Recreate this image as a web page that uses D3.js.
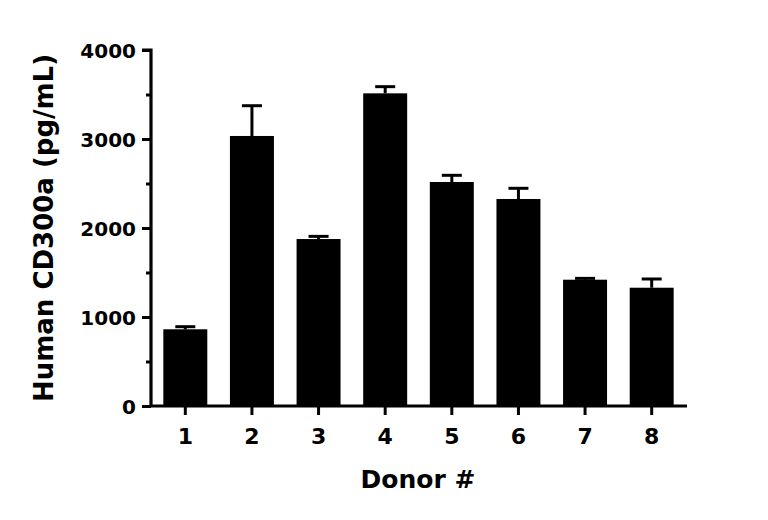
<!DOCTYPE html>
<html><head><meta charset="utf-8">
<script src="https://cdn.jsdelivr.net/npm/d3@7"></script>
<style>body{margin:0;background:#fff}svg{display:block}text{font-family:"DejaVu Sans",sans-serif;font-weight:700;fill:#000}</style>
</head><body>
<svg id="c" width="768" height="520"></svg>
<script>
const donors = ["1","2","3","4","5","6","7","8"];
const means = [862, 3034, 1876, 3513, 2517, 2326, 1419, 1329];
const errors = [29, 340, 30, 75, 75, 120, 15, 98];
const yTicks = [0, 1000, 2000, 3000, 4000];
const yMinorTicks = [500, 1500, 2500, 3500];

const svg = d3.select("#c");
const x = d3.scaleBand().domain(donors).range([150, 687]).paddingInner(0.34).paddingOuter(0.2);
const y = d3.scaleLinear().domain([0, 4000]).range([406, 50]);

// bars
svg.selectAll("rect.bar").data(donors).join("rect")
  .attr("x", d => x(d)).attr("width", x.bandwidth())
  .attr("y", (d,i) => y(means[i])).attr("height", (d,i) => y(0) - y(means[i]))
  .attr("fill", "#000");

// error bars
const cap = 20;
const eg = svg.append("g").attr("stroke", "#000").attr("stroke-width", 3);
donors.forEach((d,i) => {
  const cx = x(d) + x.bandwidth()/2;
  eg.append("line").attr("x1", cx).attr("x2", cx).attr("y1", y(means[i])).attr("y2", y(means[i]+errors[i]));
  eg.append("line").attr("x1", cx-cap/2).attr("x2", cx+cap/2).attr("y1", y(means[i]+errors[i])).attr("y2", y(means[i]+errors[i]));
});

// y axis
const ya = svg.append("g").attr("transform", "translate(151,0)")
  .call(d3.axisLeft(y).tickValues(yTicks).tickSize(9).tickPadding(6).tickFormat(d3.format("d")));
ya.selectAll(".tick line").attr("stroke-width", 3);
ya.select(".domain").attr("stroke-width", 3.2).attr("d", `M-9,${y(4000)}H0V${y(0)}`);
ya.selectAll("text").style("font-size", "20px").attr("dy", "0.36em");
const ym = svg.append("g").attr("transform", "translate(151,0)")
  .call(d3.axisLeft(y).tickValues(yMinorTicks).tickSize(5).tickFormat(""));
ym.select(".domain").remove();
ym.selectAll(".tick line").attr("stroke-width", 3);

// x axis
const xa = svg.append("g").attr("transform", `translate(0,${y(0)})`)
  .call(d3.axisBottom(x).tickSize(9).tickPadding(13));
xa.select(".domain").attr("stroke-width", 3.2).attr("d", `M150,0H687`);
xa.selectAll(".tick line").attr("stroke-width", 3);
xa.selectAll("text").style("font-size", "22px");

svg.append("text").attr("x", 418).attr("y", 488).attr("text-anchor", "middle")
  .style("font-size", "25px").text("Donor #");
svg.append("text").attr("transform", "translate(53,228) rotate(-90)").attr("text-anchor", "middle")
  .style("font-size", "26px").text("Human CD300a (pg/mL)");
</script>
</body></html>
